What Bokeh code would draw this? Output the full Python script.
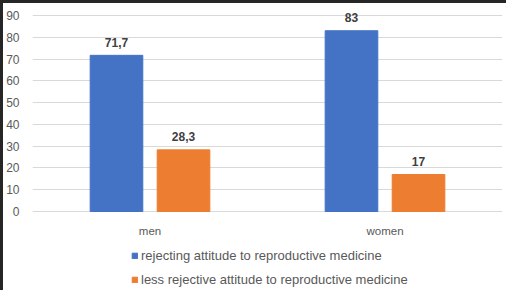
from bokeh.plotting import figure
from bokeh.models import ColumnDataSource, LabelSet, Legend, LegendItem, FactorRange
from bokeh.core.properties import value
from bokeh.transform import dodge
from bokeh.embed import file_html
from bokeh.resources import INLINE

categories = ["men", "women"]
rejecting = [71.7, 83]
less_rejective = [28.3, 17]
rejecting_labels = ["71,7", "83"]
less_labels = ["28,3", "17"]
y_ticks = [0, 10, 20, 30, 40, 50, 60, 70, 80, 90]
series_names = ["rejecting attitude to reproductive medicine",
                "less rejective attitude to reproductive medicine"]

src = ColumnDataSource(data=dict(cat=categories, rej=rejecting, less=less_rejective,
                                 rej_lab=rejecting_labels, less_lab=less_labels,
                                 zero=[0, 0]))

FONT = "Liberation Sans"
W, H = 506, 290
LEFT, RIGHT = 32, 4
Y90_PX, Y0_PX = 15, 211          # screen rows of the 90 and 0 gridlines
px_per_unit = (Y0_PX - Y90_PX) / 90.0
y_end = 90 + Y90_PX / px_per_unit
y_start = -(H - Y0_PX) / px_per_unit

p = figure(x_range=FactorRange(*categories, range_padding=0), y_range=(y_start, y_end),
           width=W, height=H, output_backend="svg", toolbar_location=None,
           min_border_left=LEFT, min_border_right=RIGHT, min_border_top=0,
           min_border_bottom=0)
p.styles = {"box-shadow": "inset 3px 3px 0 0 #262626", "background-color": "white"}
p.border_fill_alpha = 0
p.background_fill_alpha = 0
p.outline_line_color = None
p.xaxis.visible = False

OFF = 0.1426
BW = 0.224
r1 = p.vbar(x=dodge("cat", -OFF, range=p.x_range), top="rej", width=BW, source=src,
            color="#4472C4")
r2 = p.vbar(x=dodge("cat", OFF, range=p.x_range), top="less", width=BW, source=src,
            color="#ED7D31")

lab_style = dict(text_font_size="12px", text_font_style="bold", text_color="#404040",
                 text_align="center", text_baseline="middle", y_offset=13, source=src,
                 text_font=value(FONT))
p.add_layout(LabelSet(x=dodge("cat", -OFF, range=p.x_range), y="rej", text="rej_lab",
                      **lab_style))
p.add_layout(LabelSet(x=dodge("cat", OFF, range=p.x_range), y="less", text="less_lab",
                      **lab_style))

# category labels under the baseline
p.text(x="cat", y="zero", text="cat", source=src, y_offset=19,
       text_font=value(FONT), text_font_size="11.5px", text_color="#595959",
       text_align="center", text_baseline="middle")

p.xgrid.grid_line_color = None
p.ygrid.grid_line_color = "#D9D9D9"
p.ygrid.ticker = y_ticks
p.yaxis.ticker = y_ticks
p.yaxis.axis_line_color = None
p.yaxis.major_tick_line_color = None
p.yaxis.minor_tick_line_color = None
p.yaxis.major_label_text_color = "#595959"
p.yaxis.major_label_text_font_size = "12px"
p.yaxis.major_label_text_font = FONT
p.yaxis.major_label_standoff = 7

legend = Legend(items=[LegendItem(label=series_names[0], renderers=[r1]),
                       LegendItem(label=series_names[1], renderers=[r2])],
                location=(99, 3), orientation="vertical",
                glyph_width=7, glyph_height=7, label_height=14, spacing=9,
                padding=0, margin=0, label_standoff=3,
                border_line_color=None, background_fill_alpha=0,
                label_text_font=FONT, label_text_font_size="13px",
                label_text_color="#595959")
p.add_layout(legend, "center")

open("out.html", "w").write(file_html(p, INLINE))
